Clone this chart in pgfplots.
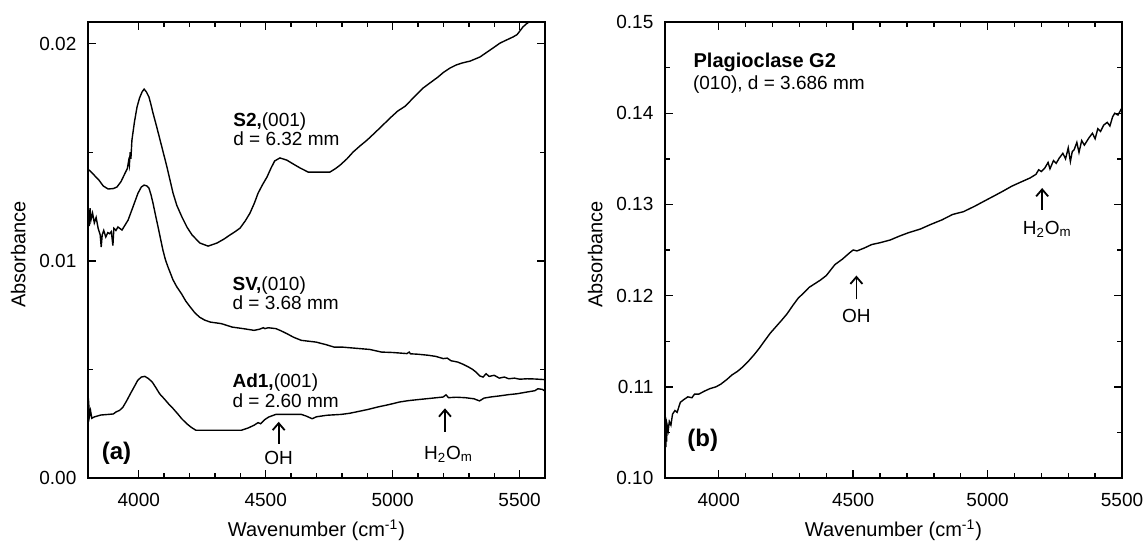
\documentclass[border=0pt]{standalone}
\usepackage{fontspec}
\setmainfont{Liberation Sans}
\usepackage{pgfplots}
\pgfplotsset{compat=1.18}
\usetikzlibrary{arrows.meta}

\pgfplotstableread{
x y
3800 0.01423
3820 0.01400
3843 0.01372
3860 0.01345
3879 0.01331
3900 0.01333
3914 0.01340
3930 0.01365
3946 0.01404
3955 0.01425
3960 0.01460
3963 0.01440
3966 0.01500
3969 0.01470
3973 0.01556
3983 0.01640
3993 0.01708
4003 0.01750
4013 0.01778
4021 0.01791
4030 0.01778
4040 0.01755
4048 0.01720
4056 0.01681
4070 0.01620
4084 0.01556
4098 0.01492
4111 0.01432
4123 0.01372
4135 0.01312
4150 0.01255
4170 0.01202
4190 0.01155
4210 0.01119
4241 0.01082
4273 0.01068
4308 0.01082
4335 0.01100
4359 0.01119
4380 0.01135
4399 0.01151
4420 0.01185
4438 0.01220
4455 0.01265
4470 0.01312
4488 0.01352
4505 0.01386
4520 0.01425
4535 0.01460
4556 0.01474
4583 0.01464
4610 0.01445
4635 0.01428
4667 0.01409
4700 0.01409
4753 0.01409
4775 0.01425
4793 0.01441
4820 0.01470
4844 0.01501
4870 0.01528
4899 0.01556
4930 0.01590
4962 0.01626
4990 0.01658
5020 0.01690
5049 0.01712
5085 0.01755
5120 0.01796
5150 0.01822
5179 0.01847
5200 0.01868
5226 0.01888
5250 0.01902
5273 0.01911
5305 0.01920
5344 0.01939
5370 0.01960
5395 0.01980
5423 0.02003
5450 0.02018
5474 0.02031
5490 0.02042
5498 0.02054
5513 0.02077
5525 0.02090
5537 0.02100
5560 0.02125
}\tableSii

\pgfplotstableread{
x y
3805 0.01160
3808 0.01243
3812 0.01190
3818 0.01220
3825 0.01175
3832 0.01200
3840 0.01150
3848 0.01120
3852 0.01064
3856 0.01120
3862 0.01140
3870 0.01110
3878 0.01130
3885 0.01125
3892 0.01135
3898 0.01070
3902 0.01150
3910 0.01140
3918 0.01156
3934 0.01142
3958 0.01188
3977 0.01248
3997 0.01312
4010 0.01340
4021 0.01349
4032 0.01345
4040 0.01335
4048 0.01305
4056 0.01266
4066 0.01210
4076 0.01156
4086 0.01100
4095 0.01050
4105 0.01005
4115 0.00972
4135 0.00912
4150 0.00880
4168 0.00849
4185 0.00815
4203 0.00787
4220 0.00762
4239 0.00741
4260 0.00727
4282 0.00718
4325 0.00711
4368 0.00695
4411 0.00688
4454 0.00680
4475 0.00685
4490 0.00692
4497 0.00688
4510 0.00692
4540 0.00688
4560 0.00678
4583 0.00665
4610 0.00648
4640 0.00634
4698 0.00626
4735 0.00615
4769 0.00603
4800 0.00603
4870 0.00596
4910 0.00592
4956 0.00580
5000 0.00578
5056 0.00573
5065 0.00580
5070 0.00572
5100 0.00570
5142 0.00565
5170 0.00560
5199 0.00550
5215 0.00552
5230 0.00540
5256 0.00534
5275 0.00525
5299 0.00511
5315 0.00500
5328 0.00488
5343 0.00470
5356 0.00465
5368 0.00480
5380 0.00468
5400 0.00473
5420 0.00460
5440 0.00465
5457 0.00457
5480 0.00460
5500 0.00455
5529 0.00457
5560 0.00456
5600 0.00453
}\tableSV

\pgfplotstableread{
x y
3800 0.00320
3803 0.00340
3806 0.00285
3810 0.00310
3815 0.00275
3824 0.00281
3850 0.00290
3881 0.00293
3900 0.00295
3910 0.00304
3925 0.00312
3938 0.00327
3952 0.00355
3967 0.00388
3982 0.00420
3996 0.00450
4010 0.00465
4024 0.00468
4038 0.00458
4053 0.00442
4068 0.00415
4082 0.00388
4100 0.00365
4117 0.00342
4135 0.00320
4153 0.00296
4170 0.00272
4189 0.00250
4207 0.00233
4225 0.00220
4311 0.00220
4404 0.00220
4430 0.00230
4454 0.00243
4470 0.00255
4480 0.00250
4495 0.00268
4512 0.00281
4540 0.00293
4600 0.00293
4640 0.00293
4660 0.00285
4683 0.00273
4700 0.00282
4741 0.00289
4798 0.00293
4830 0.00298
4855 0.00304
4900 0.00315
4941 0.00327
4985 0.00338
5027 0.00350
5060 0.00356
5099 0.00361
5150 0.00367
5199 0.00373
5210 0.00383
5220 0.00370
5250 0.00372
5285 0.00370
5320 0.00365
5342 0.00355
5360 0.00368
5385 0.00373
5420 0.00378
5457 0.00384
5490 0.00388
5529 0.00396
5560 0.00402
5572 0.00411
5590 0.00408
5600 0.00400
}\tableAd

\pgfplotstableread{
x y
3801 0.1060
3802 0.1067
3803 0.1034
3804 0.1060
3806 0.1040
3808 0.1058
3812 0.1052
3816 0.1062
3822 0.1058
3828 0.1070
3837 0.1074
3845 0.1072
3857 0.1083
3870 0.1086
3885 0.1089
3900 0.1088
3910 0.1092
3926 0.1092
3945 0.1095
3967 0.1098
3990 0.1100
4008 0.1103
4030 0.1108
4049 0.1113
4070 0.1117
4090 0.1122
4110 0.1128
4131 0.1135
4150 0.1142
4172 0.1151
4192 0.1159
4213 0.1166
4234 0.1173
4254 0.1180
4275 0.1189
4295 0.1197
4316 0.1203
4336 0.1209
4357 0.1213
4378 0.1217
4400 0.1222
4432 0.1234
4460 0.1240
4487 0.1247
4500 0.1250
4514 0.1249
4540 0.1252
4569 0.1256
4600 0.1258
4638 0.1261
4670 0.1265
4706 0.1269
4750 0.1273
4788 0.1278
4830 0.1283
4870 0.1289
4910 0.1292
4952 0.1298
4990 0.1304
5035 0.1311
5060 0.1315
5090 0.1320
5120 0.1324
5158 0.1329
5180 0.1333
5190 0.1338
5200 0.1336
5213 0.1340
5225 0.1346
5232 0.1339
5245 0.1348
5255 0.1345
5267 0.1351
5280 0.1356
5290 0.1350
5300 0.1362
5308 0.1347
5315 0.1358
5322 0.1360
5332 0.1368
5340 0.1357
5350 0.1370
5360 0.1365
5377 0.1373
5390 0.1378
5400 0.1372
5410 0.1383
5420 0.1380
5432 0.1387
5445 0.1390
5455 0.1386
5465 0.1396
5473 0.1400
5485 0.1398
5500 0.1406
}\tableGii

\tikzset{
  ann/.style={font=\fontsize{9.5}{11}\selectfont, inner sep=0pt},
  arr/.style={-{Straight Barb[length=3.5pt,width=6pt]}, line width=0.9pt},
}
\pgfplotsset{
  common/.style={
    scale only axis, width=228.5pt, height=228pt,
    axis line style={line width=0.9pt},
    tick align=inside,
    major tick length=4pt, minor tick length=2.5pt,
    every tick/.style={line width=0.7pt, black},
    scaled y ticks=false, scaled x ticks=false,
    /pgf/number format/assume math mode=true,
    tick label style={font=\fontsize{9.5}{11}\selectfont},
    label style={font=\fontsize{10}{12}\selectfont},
    xlabel={Wavenumber (cm\textsuperscript{-1})},
    ylabel={Absorbance},
    xlabel style={at={(axis description cs:0.5,-0.128)}, anchor=base},
    ylabel style={at={(axis description cs:-0.137,0.49)}, anchor=base},
    xtick={4000,4500,5000,5500},
    minor x tick num=4,
    minor y tick num=1,
    xticklabel style={/pgf/number format/1000 sep={}, yshift=-4pt},
    yticklabel style={/pgf/number format/.cd, fixed, fixed zerofill, precision=2, /tikz/.cd, xshift=-2.3pt},
  },
}

\begin{document}
\begin{tikzpicture}
\useasboundingbox (-44pt,-32.5pt) rectangle (529pt,239pt);
\begin{axis}[common, at={(0pt,0pt)}, anchor=south west,
  xmin=3800, xmax=5600, ymin=0, ymax=0.021,
  ytick={0,0.01,0.02}]
\addplot[black, line width=0.7pt] table[x=x,y=y] {\tableSii};
\addplot[black, line width=0.7pt] table[x=x,y=y] {\tableSV};
\addplot[black, line width=0.7pt] table[x=x,y=y] {\tableAd};
\node[ann, anchor=base west] at (axis cs:4371,0.01621) {\textbf{S2,}(001)};
\node[ann, anchor=base west] at (axis cs:4371,0.0153) {d = 6.32 mm};
\node[ann, anchor=base west] at (axis cs:4368,0.00863) {\textbf{SV,}(010)};
\node[ann, anchor=base west] at (axis cs:4368,0.00777) {d = 3.68 mm};
\node[ann, anchor=base west] at (axis cs:4368,0.00418) {\textbf{Ad1,}(001)};
\node[ann, anchor=base west] at (axis cs:4368,0.00326) {d = 2.60 mm};
\node[inner sep=0pt, anchor=base west, font=\fontsize{12}{14}\selectfont\bfseries] at (axis cs:3853,0.00083) {(a)};
\draw[arr] (axis cs:4551,0.00157) -- (axis cs:4551,0.00259);
\node[ann, anchor=base] at (axis cs:4551,0.00064) {OH};
\draw[arr] (axis cs:5206,0.00213) -- (axis cs:5206,0.00321);
\node[ann, anchor=base] at (axis cs:5220,0.00087) {H\textsubscript{2}O\textsubscript{m}};
\end{axis}

\begin{axis}[common, at={(288.5pt,0pt)}, anchor=south west,
  xmin=3800, xmax=5500, ymin=0.10, ymax=0.15,
  ytick={0.10,0.11,0.12,0.13,0.14,0.15}]
\addplot[black, line width=0.7pt] table[x=x,y=y] {\tableGii};
\node[ann, anchor=base west, font=\fontsize{10}{12}\selectfont\bfseries] at (axis cs:3905,0.14496) {Plagioclase G2};
\node[ann, anchor=base west] at (axis cs:3903,0.14258) {(010), d = 3.686 mm};
\node[inner sep=0pt, anchor=base west, font=\fontsize{12}{14}\selectfont\bfseries] at (axis cs:3882,0.1034) {(b)};
\draw[arr] (axis cs:4512,0.1196) -- (axis cs:4512,0.1222);
\node[ann, anchor=base] at (axis cs:4512,0.1170) {OH};
\draw[arr] (axis cs:5203,0.1294) -- (axis cs:5203,0.1318);
\node[ann, anchor=base] at (axis cs:5222,0.12668) {H\textsubscript{2}O\textsubscript{m}};
\end{axis}
\end{tikzpicture}
\end{document}
